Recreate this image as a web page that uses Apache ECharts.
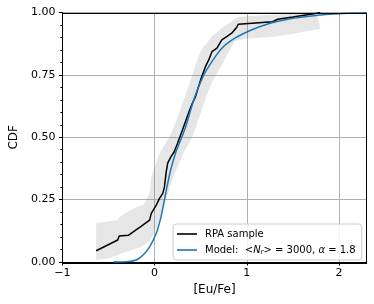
<!DOCTYPE html>
<html>
<head>
<meta charset="utf-8">
<script src="https://cdn.jsdelivr.net/npm/echarts@6/dist/echarts.min.js"></script>
<style>html,body{margin:0;padding:0;background:#fff}#c{width:374px;height:304px}</style>
</head>
<body>
<div id="c"></div>
<script>
// Empirical CDF of RPA sample
const rpaX = [-0.634,-0.40,-0.384,-0.285,-0.232,-0.143,-0.125,-0.054,-0.036,0.018,0.053,0.089,0.107,0.124,0.142,0.178,0.213,0.249,0.302,0.373,0.409,0.444,0.498,0.551,0.587,0.622,0.676,0.729,0.782,0.836,0.889,0.907,1.28,1.334,1.5,1.76,1.796];
const rpaY = [0.045,0.088,0.104,0.107,0.121,0.144,0.148,0.168,0.195,0.228,0.255,0.275,0.302,0.356,0.396,0.422,0.442,0.476,0.529,0.602,0.636,0.663,0.729,0.783,0.81,0.843,0.857,0.89,0.903,0.917,0.94,0.953,0.963,0.973,0.982,0.997,1.0];
// Model CDF
const modelX = [-0.45,-0.3,-0.2,-0.125,-0.054,0.018,0.07,0.107,0.142,0.178,0.23,0.267,0.30,0.337,0.391,0.444,0.534,0.622,0.729,0.871,1.049,1.227,1.404,1.58,1.94,2.3];
const modelY = [0,0.001,0.008,0.028,0.061,0.115,0.182,0.249,0.315,0.375,0.44,0.475,0.505,0.542,0.609,0.67,0.75,0.803,0.857,0.897,0.93,0.954,0.97,0.981,0.994,0.999];
// Confidence band
const bandUpX = [-0.634,-0.40,-0.38,-0.26,-0.18,-0.125,-0.054,-0.036,0.0,0.06,0.16,0.23,0.302,0.373,0.427,0.46,0.515,0.55,0.622,0.69,0.747,0.85,0.907,1.227,1.5,1.76];
const bandUpY = [0.155,0.168,0.18,0.208,0.222,0.228,0.275,0.34,0.38,0.44,0.502,0.56,0.636,0.709,0.77,0.81,0.855,0.87,0.905,0.925,0.943,0.968,0.983,0.99,0.995,1.0];
const bandLoX = [-0.634,-0.49,-0.36,-0.25,-0.143,-0.054,0.0,0.035,0.089,0.178,0.24,0.31,0.409,0.498,0.569,0.622,0.729,0.80,0.871,0.98,1.3,1.55,1.796];
const bandLoY = [0.008,0.015,0.035,0.048,0.061,0.085,0.12,0.15,0.21,0.315,0.375,0.435,0.50,0.596,0.67,0.72,0.79,0.84,0.885,0.895,0.903,0.918,0.935];
// Axes
const xTicks = [-1,0,1,2];
const yTicks = [0,0.25,0.5,0.75,1];
const seriesNames = ['RPA sample','Model'];

const zip = (a,b) => a.map((v,i)=>[v,b[i]]);
const font = 'DejaVu Sans';
const chart = echarts.init(document.getElementById('c'), null, {renderer:'canvas'});
const XMIN=-1, XMAX=2.3, YMIN=0, YMAX=1;
const option = {
  animation:false,
  grid:{left:58, right:7.3, top:12.5, bottom:42, containLabel:false},
  xAxis:[{
    type:'value', min:XMIN, max:XMAX, interval:1,
    name:'[Eu/Fe]', nameLocation:'middle', nameGap:20,
    nameTextStyle:{fontFamily:font, fontSize:12, color:'#000'},
    axisLine:{show:true, onZero:false, lineStyle:{color:'#000', width:1}},
    axisTick:{show:true, length:3.5, lineStyle:{color:'#000'}},
    axisLabel:{fontFamily:font, fontSize:11, color:'#000', margin:6, showMaxLabel:false,
      formatter:v=> xTicks.includes(v) ? (v<0?'\u2212'+Math.abs(v):String(v)) : ''},
    splitLine:{show:true, lineStyle:{color:'#b0b0b0', width:1}},
    minorTick:{show:false}
  },{
    type:'value', min:XMIN, max:XMAX, interval:0.25, position:'bottom',
    axisLine:{show:false, onZero:false}, axisLabel:{show:false},
    axisTick:{show:true, length:2, lineStyle:{color:'#000'}},
    splitLine:{show:false}
  }],
  yAxis:{
    type:'value', min:YMIN, max:YMAX, interval:0.25,
    name:'CDF', nameLocation:'middle', nameGap:36,
    nameTextStyle:{fontFamily:font, fontSize:12, color:'#000'},
    axisLine:{show:true, onZero:false, lineStyle:{color:'#000', width:1}},
    axisTick:{show:true, length:3.5, lineStyle:{color:'#000'}},
    minorTick:{show:true, splitNumber:5, length:2, lineStyle:{color:'#000'}},
    axisLabel:{fontFamily:font, fontSize:11, color:'#000', margin:7, formatter:v=>v.toFixed(2)},
    splitLine:{show:true, lineStyle:{color:'#b0b0b0', width:1}}
  },
  legend:{
    orient:'vertical', left:173, top:224, data:seriesNames,
    backgroundColor:'rgba(255,255,255,0.85)', borderColor:'#cccccc', borderWidth:1, borderRadius:3,
    padding:[4,6,4,4], itemGap:4, itemWidth:20, itemHeight:1.6, icon:'rect',
    textStyle:{fontFamily:font, fontSize:10, color:'#000', padding:[0,0,0,3], lineHeight:12,
      rich:{i:{fontFamily:font, fontSize:10, fontStyle:'italic'}, sub:{fontFamily:font, fontSize:7, fontStyle:'italic', padding:[5,0,0,0]}}},
    formatter:n=> n==='Model' ? 'Model:  <{i|N}{sub|r}> = 3000, {i|\u03b1} = 1.8' : n
  },
  series:[
    {type:'custom', name:'band', silent:true, z:1, clip:true,
     data:[[bandUpX[0], bandUpY[0]]],
     encode:{x:0,y:1},
     renderItem:(params, api)=>{
       const pts = bandUpX.map((x,i)=>api.coord([x,bandUpY[i]]));
       for(let i=bandLoX.length-1;i>=0;i--) pts.push(api.coord([bandLoX[i],bandLoY[i]]));
       return {type:'polygon', shape:{points:pts}, style:{fill:'rgba(128,128,128,0.2)', stroke:null}};
     }},
    {type:'line', name:'RPA sample', data:zip(rpaX,rpaY), showSymbol:false, symbol:'none', z:3,
     lineStyle:{color:'#000', width:1.5}, itemStyle:{color:'#000'}},
    {type:'line', name:'Model', data:zip(modelX,modelY), showSymbol:false, symbol:'none', smooth:0.3, z:4,
     lineStyle:{color:'#1f77b4', width:1.5}, itemStyle:{color:'#1f77b4'}}
  ]
};
chart.setOption(option);
const p0 = chart.convertToPixel({gridIndex:0}, [XMIN, YMAX]);
const p1 = chart.convertToPixel({gridIndex:0}, [XMAX, YMIN]);
chart.setOption({graphic:[{type:'rect', z:100, silent:true,
  shape:{x:Math.round(p0[0])+0.5, y:Math.round(p0[1])+0.5, width:Math.round(p1[0]-p0[0]), height:Math.round(p1[1]-p0[1])},
  style:{fill:null, stroke:'#000', lineWidth:1}}]});
</script>
</body>
</html>
